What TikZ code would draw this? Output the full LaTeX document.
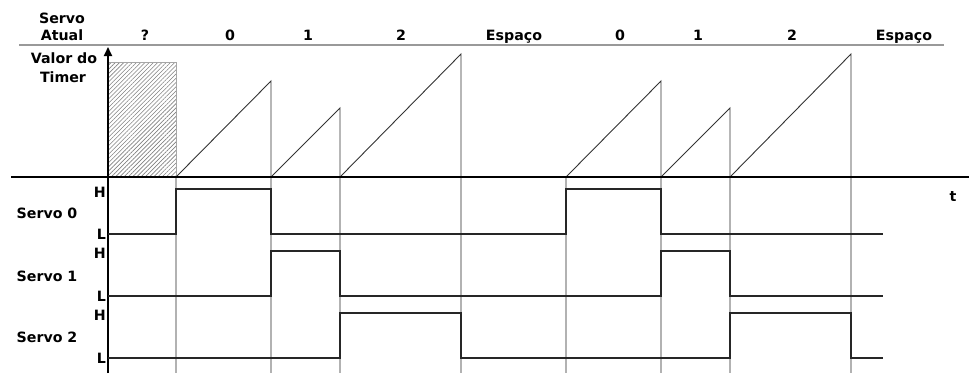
\documentclass[tikz,border=0pt]{standalone}
\usepackage{fontspec}
\setmainfont{DejaVu Sans}
\usetikzlibrary{arrows.meta,patterns.meta}
\begin{document}
\begin{tikzpicture}[x=1pt,y=-1pt,
  lbl/.style={font=\bfseries\fontsize{14.2}{16}\selectfont, inner sep=0pt, anchor=base},
  hl/.style={font=\bfseries\fontsize{14.2}{16}\selectfont, inner sep=0pt, anchor=base east},
  axis/.style={line width=2pt, black},
  grid/.style={line width=1.2pt, black!30},
  saw/.style={line width=0.9pt, black!80},
  sig/.style={line width=1.3pt, black!85}]
\useasboundingbox (0,0) rectangle (969,373);
% header
\node[lbl] (sa1) at (62,23) {Servo};
\node[lbl] (sa2) at (62,40) {Atual};
\draw[line width=1.2pt, black!40] (19,45) -- (944,45);
\node[lbl] (c0) at (145,40) {?};
\node[lbl] (c1) at (230,40) {0};
\node[lbl] (c2) at (308,40) {1};
\node[lbl] (c3) at (401,40) {2};
\node[lbl] (c4) at (514,40) {Espaço};
\node[lbl] (c5) at (620,40) {0};
\node[lbl] (c6) at (698,40) {1};
\node[lbl] (c7) at (792,40) {2};
\node[lbl] (c8) at (904,40) {Espaço};
% timer label
\node[lbl] (vt1) at (64,63) {Valor do};
\node[lbl] (vt2) at (63,82) {Timer};
% hatched
\fill[pattern={Lines[angle=45,distance=3pt,line width=0.6pt]}, pattern color=black!50] (108,62) rectangle (176,177);
\draw[black!35, line width=0.9pt] (108,62) rectangle (176,177);
% grid lines below axis
\foreach \x in {176,271,340,461,566,661,730,851}
  \draw[grid] (\x,177) -- (\x,373);
% sawtooth
\foreach \a/\b/\p in {176/271/81,271/340/108,340/461/54,566/661/81,661/730/108,730/851/54}
  \draw[saw] (\a,177) -- (\b,\p) -- (\b,177);
% axes
\draw[axis] (11,177) -- (969,177);
\draw[axis, -{Triangle[width=8pt,length=9pt]}] (108,373) -- (108,47);
\node[lbl] (t) at (953,201) {t};
% servo labels
\node[lbl] (s0) at (47,218) {Servo 0};
\node[lbl] (s1) at (47,281) {Servo 1};
\node[lbl] (s2) at (47,342) {Servo 2};
\node[hl] (h0) at (106,197) {H};
\node[hl] (l0) at (106,239) {L};
\node[hl] (h1) at (106,258) {H};
\node[hl] (l1) at (106,301) {L};
\node[hl] (h2) at (106,320) {H};
\node[hl] (l2) at (106,363) {L};
% signals
\draw[sig] (108,234) -- (176,234) -- (176,189) -- (271,189) -- (271,234) -- (566,234) -- (566,189) -- (661,189) -- (661,234) -- (883,234);
\draw[sig] (108,296) -- (271,296) -- (271,251) -- (340,251) -- (340,296) -- (661,296) -- (661,251) -- (730,251) -- (730,296) -- (883,296);
\draw[sig] (108,358) -- (340,358) -- (340,313) -- (461,313) -- (461,358) -- (730,358) -- (730,313) -- (851,313) -- (851,358) -- (883,358);
\end{tikzpicture}
\end{document}
